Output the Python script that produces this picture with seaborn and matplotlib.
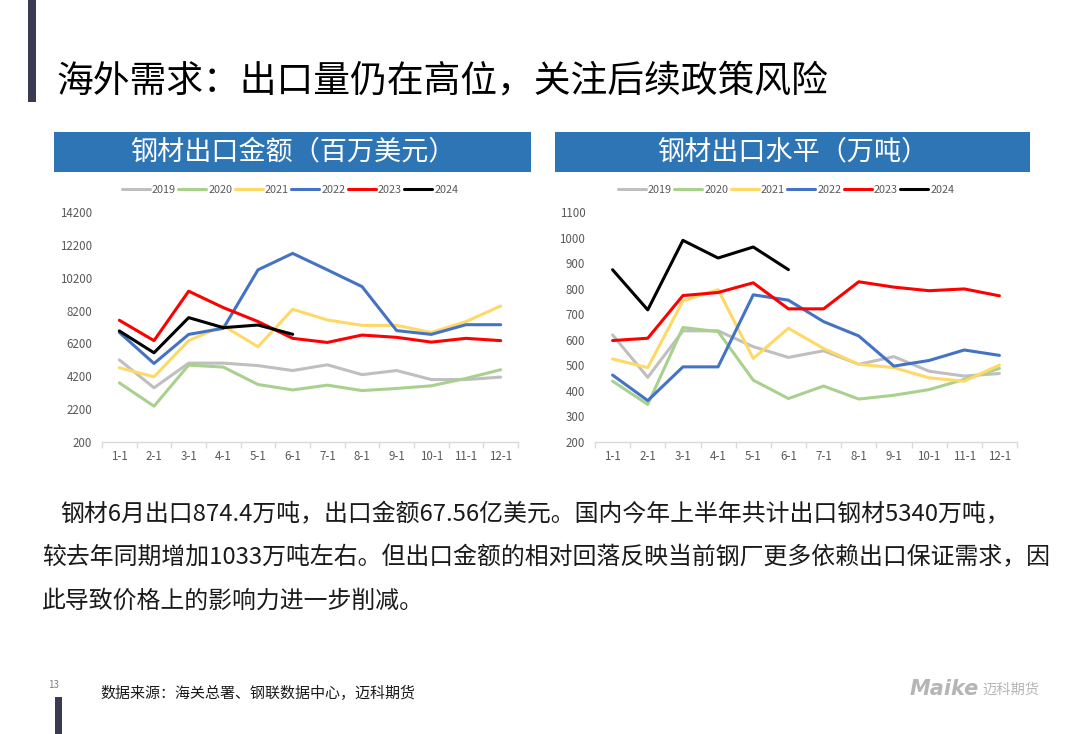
import numpy as np
import pandas as pd
import matplotlib
matplotlib.use("Agg")
import matplotlib.pyplot as plt
from matplotlib.patches import Rectangle
import seaborn as sns

months = ["1-1", "2-1", "3-1", "4-1", "5-1", "6-1", "7-1", "8-1", "9-1", "10-1", "11-1", "12-1"]
years = ["2019", "2020", "2021", "2022", "2023", "2024"]
colors = ["#bfbfbf", "#a9d18e", "#ffd966", "#4472c4", "#ff0000", "#000000"]

# 钢材出口金额（百万美元）
amt_2019 = [5200, 3500, 5000, 5000, 4850, 4550, 4900, 4300, 4550, 4000, 4000, 4150]
amt_2020 = [3800, 2380, 4880, 4760, 3700, 3370, 3660, 3330, 3460, 3620, 4070, 4600]
amt_2021 = [4720, 4170, 6370, 7280, 6000, 8280, 7630, 7300, 7300, 6870, 7530, 8480]
amt_2022 = [6870, 4980, 6750, 7120, 10680, 11680, 10680, 9660, 6980, 6750, 7340, 7340]
amt_2023 = [7610, 6370, 9380, 8380, 7530, 6510, 6260, 6710, 6570, 6280, 6510, 6370]
amt_2024 = [6960, 5630, 7770, 7160, 7320, 6756]

# 钢材出口水平（万吨）
vol_2019 = [619, 453, 635, 635, 573, 531, 557, 504, 534, 477, 458, 468]
vol_2020 = [438, 347, 648, 632, 442, 370, 419, 368, 383, 405, 445, 488]
vol_2021 = [525, 491, 752, 796, 527, 645, 566, 504, 491, 451, 438, 501]
vol_2022 = [462, 362, 494, 494, 776, 755, 671, 615, 497, 519, 560, 539]
vol_2023 = [597, 606, 773, 785, 823, 721, 721, 827, 806, 792, 799, 772]
vol_2024 = [874, 717, 989, 920, 963, 874.4]

amt_series = [amt_2019, amt_2020, amt_2021, amt_2022, amt_2023, amt_2024]
vol_series = [vol_2019, vol_2020, vol_2021, vol_2022, vol_2023, vol_2024]


def long_df(series):
    rows = []
    for yr, vals in zip(years, series):
        for i, v in enumerate(vals):
            rows.append({"month": i, "year": yr, "value": v})
    return pd.DataFrame(rows)


sns.set_theme(style="white")
plt.rcParams['font.family'] = ['Noto Sans CJK SC', 'DejaVu Sans']

fig = plt.figure(figsize=(10.8, 7.34), dpi=100)
W, H = 1080, 734


def fx(px):
    return px / W


def fy(py):
    return 1 - py / H


def panel(series, left_px, right_px, ylim, yticks):
    ax = fig.add_axes([fx(left_px), fy(442), fx(right_px - left_px), (442 - 212) / H])
    df = long_df(series)
    sns.lineplot(data=df, x="month", y="value", hue="year", hue_order=years,
                 palette=colors, linewidth=2.2, sort=False, ax=ax)
    ax.set_xlim(-0.5, 11.5)
    ax.set_ylim(*ylim)
    ax.set_yticks(yticks)
    ax.set_yticklabels([str(t) for t in yticks], fontsize=8.3, color="#595959")
    ax.set_xticks(range(12))
    ax.set_xticklabels(months, fontsize=8.3, color="#595959")
    ax.set_xticks(np.arange(-0.5, 12, 1), minor=True)
    ax.tick_params(axis="x", which="major", length=0, pad=6)
    ax.tick_params(axis="x", which="minor", length=4, color="#d9d9d9", direction="out")
    ax.tick_params(axis="y", length=0, pad=7)
    ax.xaxis.set_ticks_position("bottom")
    ax.set_xlabel("")
    ax.set_ylabel("")
    for s in ["left", "right", "top"]:
        ax.spines[s].set_visible(False)
    ax.spines["bottom"].set_color("#d9d9d9")
    ax.spines["bottom"].set_linewidth(1)
    ax.grid(False)
    ax.get_legend().remove()
    handles, labels = ax.get_legend_handles_labels()
    cx = (left_px + right_px) / 2 - 20
    fig.legend(handles, labels, loc="center", bbox_to_anchor=(fx(cx), fy(190)),
               ncol=6, frameon=False, fontsize=7.8, handlelength=2.6, handletextpad=0.2,
               columnspacing=0.2, labelcolor="#595959")
    return ax


panel(amt_series, 102, 518, (200, 14200), list(range(200, 14201, 2000)))
panel(vol_series, 595, 1017, (200, 1100), list(range(200, 1101, 100)))

# header bars
for x0, x1, txt in [(54, 531, "钢材出口金额（百万美元）"), (555, 1030, "钢材出口水平（万吨）")]:
    fig.patches.append(Rectangle((fx(x0), fy(172)), fx(x1 - x0), 40 / H,
                                 transform=fig.transFigure, facecolor="#2e75b6",
                                 edgecolor="none", zorder=0))
    fig.text(fx((x0 + x1) / 2), fy(152), txt, ha="center", va="center",
             fontsize=19.5, color="white", fontweight="light")

# decorative bars
fig.patches.append(Rectangle((fx(28), fy(102)), fx(8), 102 / H, transform=fig.transFigure,
                             facecolor="#3a3b52", edgecolor="none"))
fig.patches.append(Rectangle((fx(55), fy(734)), fx(7), 37 / H, transform=fig.transFigure,
                             facecolor="#3a3b52", edgecolor="none"))

fig.text(fx(56), fy(81), "海外需求：出口量仍在高位，关注后续政策风险", ha="left", va="center",
         fontsize=26.5, color="#000000")

body = [
    (60, 515, "钢材6月出口874.4万吨，出口金额67.56亿美元。国内今年上半年共计出口钢材5340万吨，"),
    (42, 558, "较去年同期增加1033万吨左右。但出口金额的相对回落反映当前钢厂更多依赖出口保证需求，因"),
    (42, 601, "此导致价格上的影响力进一步削减。"),
]
for x, y, t in body:
    fig.text(fx(x), fy(y), t, ha="left", va="center", fontsize=17.2, color="#1a1a1a")

fig.text(fx(48), fy(685), "13", ha="left", va="center", fontsize=7, color="#7f7f7f")
fig.text(fx(100), fy(693), "数据来源：海关总署、钢联数据中心，迈科期货", ha="left", va="center",
         fontsize=10.8, color="#1a1a1a")
fig.text(fx(910), fy(689), "Maike", ha="left", va="center", fontsize=15, fontweight="bold",
         fontstyle="italic", color="#b5b5b5", family=["DejaVu Sans"])
fig.text(fx(982), fy(690), "迈科期货", ha="left", va="center", fontsize=10.3, color="#b5b5b5")

fig.savefig("out.png", dpi=100)
